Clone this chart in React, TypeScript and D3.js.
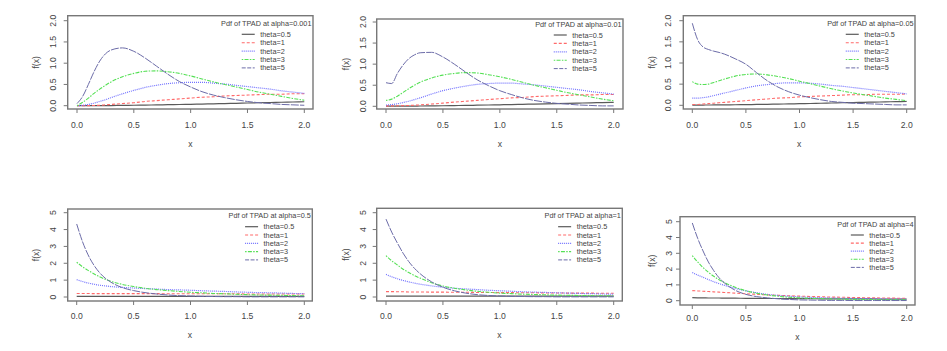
import { useEffect, useRef } from 'react';
import * as d3 from 'd3';

const xGrid = [0, 0.05, 0.1, 0.15, 0.2, 0.25, 0.3, 0.4, 0.5, 0.6, 0.7, 0.8, 0.9, 1.0, 1.1, 1.2, 1.3, 1.4, 1.5, 1.6, 1.7, 1.8, 1.9, 2.0];

const thetaLabels = ['theta=0.5', 'theta=1', 'theta=2', 'theta=3', 'theta=5'];

const xTicks = [0, 0.5, 1, 1.5, 2];
const yTicksSmall = [0, 0.5, 1, 1.5, 2];
const yTicksLarge = [0, 1, 2, 3, 4, 5];

// rows: theta=0.5, 1, 2, 3, 5
const pdfAlpha0001 = [
    [0, 0, 0.001, 0.001, 0.002, 0.003, 0.004, 0.007, 0.01, 0.014, 0.018, 0.023, 0.028, 0.033, 0.039, 0.045, 0.051, 0.057, 0.063, 0.069, 0.075, 0.081, 0.087, 0.093],
    [0, 0, 0.002, 0.005, 0.01, 0.02, 0.03, 0.05, 0.07, 0.1, 0.12, 0.14, 0.16, 0.18, 0.2, 0.21, 0.23, 0.24, 0.25, 0.26, 0.27, 0.27, 0.28, 0.28],
    [0, 0.01, 0.03, 0.06, 0.1, 0.14, 0.19, 0.28, 0.36, 0.43, 0.48, 0.52, 0.54, 0.55, 0.55, 0.53, 0.51, 0.48, 0.45, 0.42, 0.39, 0.35, 0.32, 0.29],
    [0, 0.08, 0.18, 0.29, 0.39, 0.48, 0.56, 0.68, 0.76, 0.81, 0.82, 0.8, 0.76, 0.7, 0.63, 0.56, 0.5, 0.44, 0.38, 0.32, 0.27, 0.22, 0.17, 0.13],
    [0.05, 0.22, 0.5, 0.8, 1.05, 1.22, 1.31, 1.36, 1.28, 1.12, 0.93, 0.74, 0.57, 0.44, 0.33, 0.25, 0.19, 0.14, 0.1, 0.07, 0.05, 0.03, 0.02, 0.01],
];

const pdfAlpha001 = [
    [0.003, 0.003, 0.004, 0.004, 0.005, 0.006, 0.007, 0.01, 0.013, 0.017, 0.021, 0.026, 0.031, 0.036, 0.041, 0.047, 0.053, 0.059, 0.065, 0.071, 0.077, 0.083, 0.088, 0.094],
    [0.01, 0.01, 0.012, 0.015, 0.02, 0.026, 0.034, 0.053, 0.075, 0.1, 0.12, 0.14, 0.16, 0.18, 0.2, 0.21, 0.23, 0.24, 0.25, 0.26, 0.27, 0.27, 0.28, 0.28],
    [0.03, 0.04, 0.06, 0.09, 0.12, 0.16, 0.2, 0.29, 0.37, 0.43, 0.48, 0.52, 0.54, 0.55, 0.55, 0.53, 0.51, 0.48, 0.45, 0.42, 0.39, 0.35, 0.32, 0.29],
    [0.14, 0.17, 0.24, 0.33, 0.42, 0.5, 0.57, 0.67, 0.74, 0.78, 0.8, 0.79, 0.75, 0.7, 0.64, 0.57, 0.5, 0.44, 0.38, 0.32, 0.27, 0.22, 0.17, 0.13],
    [0.56, 0.54, 0.78, 0.98, 1.13, 1.22, 1.27, 1.28, 1.17, 1.0, 0.81, 0.63, 0.49, 0.37, 0.28, 0.2, 0.14, 0.1, 0.07, 0.05, 0.03, 0.02, 0.01, 0.01],
];

const pdfAlpha005 = [
    [0.005, 0.005, 0.006, 0.007, 0.008, 0.009, 0.01, 0.013, 0.016, 0.02, 0.024, 0.028, 0.033, 0.038, 0.043, 0.048, 0.054, 0.06, 0.065, 0.07, 0.076, 0.081, 0.086, 0.09],
    [0.02, 0.02, 0.03, 0.04, 0.05, 0.06, 0.07, 0.09, 0.11, 0.13, 0.15, 0.17, 0.18, 0.2, 0.21, 0.22, 0.23, 0.24, 0.25, 0.25, 0.26, 0.26, 0.26, 0.27],
    [0.17, 0.17, 0.18, 0.2, 0.23, 0.26, 0.29, 0.35, 0.41, 0.46, 0.49, 0.52, 0.53, 0.53, 0.52, 0.5, 0.47, 0.45, 0.42, 0.39, 0.36, 0.33, 0.3, 0.27],
    [0.56, 0.5, 0.49, 0.5, 0.54, 0.58, 0.62, 0.69, 0.73, 0.74, 0.72, 0.68, 0.63, 0.57, 0.51, 0.45, 0.39, 0.34, 0.29, 0.25, 0.21, 0.17, 0.14, 0.11],
    [1.94, 1.55, 1.38, 1.32, 1.28, 1.25, 1.21, 1.1, 0.97, 0.77, 0.58, 0.43, 0.32, 0.24, 0.18, 0.13, 0.09, 0.07, 0.05, 0.04, 0.03, 0.02, 0.01, 0.01],
];

const pdfAlpha05 = [
    [0.04, 0.04, 0.04, 0.04, 0.04, 0.04, 0.04, 0.04, 0.04, 0.04, 0.04, 0.04, 0.04, 0.04, 0.04, 0.04, 0.04, 0.04, 0.04, 0.04, 0.04, 0.04, 0.04, 0.04],
    [0.21, 0.21, 0.21, 0.2, 0.2, 0.2, 0.2, 0.2, 0.2, 0.2, 0.2, 0.19, 0.19, 0.19, 0.19, 0.19, 0.19, 0.19, 0.18, 0.18, 0.18, 0.18, 0.18, 0.18],
    [1.03, 0.92, 0.83, 0.76, 0.7, 0.66, 0.62, 0.57, 0.53, 0.5, 0.47, 0.44, 0.42, 0.4, 0.37, 0.35, 0.33, 0.3, 0.28, 0.26, 0.25, 0.23, 0.21, 0.2],
    [2.06, 1.8, 1.58, 1.38, 1.2, 1.05, 0.93, 0.75, 0.62, 0.52, 0.44, 0.38, 0.33, 0.28, 0.25, 0.21, 0.19, 0.16, 0.14, 0.12, 0.11, 0.1, 0.08, 0.07],
    [4.33, 3.3, 2.5, 1.9, 1.45, 1.12, 0.88, 0.56, 0.38, 0.26, 0.18, 0.12, 0.08, 0.06, 0.04, 0.03, 0.02, 0.02, 0.01, 0.01, 0.01, 0.01, 0.01, 0.01],
];

const pdfAlpha1 = [
    [0.05, 0.05, 0.05, 0.05, 0.05, 0.05, 0.05, 0.05, 0.05, 0.05, 0.05, 0.05, 0.05, 0.05, 0.05, 0.05, 0.05, 0.05, 0.05, 0.05, 0.05, 0.05, 0.05, 0.05],
    [0.32, 0.32, 0.31, 0.31, 0.3, 0.3, 0.3, 0.29, 0.29, 0.28, 0.28, 0.27, 0.27, 0.26, 0.26, 0.25, 0.25, 0.24, 0.24, 0.23, 0.23, 0.23, 0.22, 0.22],
    [1.34, 1.2, 1.08, 0.98, 0.9, 0.82, 0.76, 0.66, 0.58, 0.52, 0.48, 0.44, 0.4, 0.37, 0.34, 0.31, 0.29, 0.27, 0.25, 0.23, 0.21, 0.2, 0.18, 0.17],
    [2.45, 2.15, 1.9, 1.65, 1.45, 1.27, 1.12, 0.85, 0.65, 0.52, 0.42, 0.34, 0.28, 0.23, 0.2, 0.17, 0.15, 0.13, 0.11, 0.1, 0.09, 0.08, 0.07, 0.06],
    [4.62, 3.85, 3.2, 2.6, 2.1, 1.7, 1.38, 0.9, 0.58, 0.37, 0.23, 0.14, 0.09, 0.06, 0.04, 0.03, 0.02, 0.02, 0.01, 0.01, 0.01, 0.01, 0.01, 0.01],
];

const pdfAlpha4 = [
    [0.19, 0.18, 0.18, 0.17, 0.17, 0.17, 0.16, 0.16, 0.15, 0.15, 0.14, 0.14, 0.13, 0.13, 0.13, 0.12, 0.12, 0.12, 0.11, 0.11, 0.11, 0.1, 0.1, 0.1],
    [0.64, 0.62, 0.6, 0.58, 0.56, 0.54, 0.52, 0.48, 0.44, 0.4, 0.37, 0.34, 0.31, 0.29, 0.27, 0.25, 0.23, 0.22, 0.2, 0.19, 0.18, 0.17, 0.16, 0.15],
    [1.78, 1.62, 1.48, 1.34, 1.2, 1.08, 0.97, 0.78, 0.62, 0.5, 0.4, 0.33, 0.28, 0.24, 0.21, 0.19, 0.17, 0.15, 0.14, 0.13, 0.12, 0.11, 0.1, 0.1],
    [2.85, 2.45, 2.1, 1.8, 1.55, 1.33, 1.15, 0.85, 0.63, 0.47, 0.36, 0.28, 0.22, 0.18, 0.15, 0.13, 0.11, 0.1, 0.09, 0.08, 0.07, 0.06, 0.06, 0.05],
    [4.92, 3.95, 3.15, 2.45, 1.9, 1.45, 1.12, 0.66, 0.4, 0.26, 0.18, 0.12, 0.08, 0.05, 0.04, 0.03, 0.02, 0.02, 0.01, 0.01, 0.01, 0.01, 0.01, 0.01],
];

const seriesStyle = [
    { color: '#5a5a5a', dash: null, width: 1.2 },
    { color: '#ff6a6a', dash: '3,2', width: 1.1 },
    { color: '#7272ff', dash: '1,1', width: 1.2 },
    { color: '#55e055', dash: '1.5,1.3,4,1.3', width: 1.1 },
    { color: '#6c6ca8', dash: '8,1.2', width: 1 },
];

const panels = [
    { alpha: '0.001', data: pdfAlpha0001, box: [67.7, 15.7, 313, 109], xr: [77, 304.3], yr: [105.7, 20.7], yMax: 2, yTicks: yTicksSmall, yTickX: 53.3, fxX: 36, xTickY: 125, xTitleY: 144, legendY: 23.3, rowGap: 8.4 },
    { alpha: '0.01', data: pdfAlpha001, box: [376.7, 19, 623, 109], xr: [386, 613.7], yr: [106.3, 22], yMax: 2, yTicks: yTicksSmall, yTickX: 363.3, fxX: 346, xTickY: 125.3, xTitleY: 144.3, legendY: 24, rowGap: 8.4 },
    { alpha: '0.05', data: pdfAlpha005, box: [683.3, 15.7, 915, 109], xr: [692.3, 906.7], yr: [105.3, 20.7], yMax: 2, yTicks: yTicksSmall, yTickX: 667.7, fxX: 651.7, xTickY: 125, xTitleY: 144.3, legendY: 23.3, rowGap: 8.4 },
    { alpha: '0.5', data: pdfAlpha05, box: [67.7, 209, 312.3, 301], xr: [76.7, 304.3], yr: [297, 212.7], yMax: 5, yTicks: yTicksLarge, yTickX: 53.3, fxX: 36, xTickY: 315.7, xTitleY: 335, legendY: 215.7, rowGap: 8.3 },
    { alpha: '1', data: pdfAlpha1, box: [376.7, 208.3, 622.3, 301], xr: [386, 613.7], yr: [297, 212.7], yMax: 5, yTicks: yTicksLarge, yTickX: 363.3, fxX: 346, xTickY: 315.7, xTitleY: 335, legendY: 215.7, rowGap: 8.3 },
    { alpha: '4', data: pdfAlpha4, box: [680, 216.7, 915, 305], xr: [692.3, 906.7], yr: [300.7, 221.7], yMax: 5, yTicks: yTicksLarge, yTickX: 669.3, fxX: 651.7, xTickY: 317.7, xTitleY: 336.7, legendY: 224, rowGap: 8.1 },
];

const FONT = '"Liberation Sans", Arial, sans-serif';
const TEXT = '#444';

const App = () => {
    const svgRef = useRef<SVGSVGElement>(null);

    useEffect(() => {
        const svg = d3.select(svgRef.current);
        svg.selectAll('*').remove();

        panels.forEach((p) => {
            const [left, top, right, bottom] = p.box;
            const g = svg.append('g');

            const x = d3.scaleLinear().domain([0, 2]).range(p.xr);
            const y = d3.scaleLinear().domain([0, p.yMax]).range(p.yr);

            // curves
            const line = d3.line<number>()
                .x((_, i) => x(xGrid[i]))
                .y((d) => y(d))
                .curve(d3.curveMonotoneX);

            p.data.forEach((vals, k) => {
                g.append('path')
                    .attr('d', line(vals))
                    .attr('fill', 'none')
                    .attr('stroke', seriesStyle[k].color)
                    .attr('stroke-width', seriesStyle[k].width)
                    .attr('stroke-dasharray', seriesStyle[k].dash);
            });

            // frame
            g.append('rect')
                .attr('x', left).attr('y', top)
                .attr('width', right - left).attr('height', bottom - top)
                .attr('fill', 'none').attr('stroke', '#777').attr('stroke-width', 1.4);

            // x axis
            xTicks.forEach((t) => {
                g.append('line')
                    .attr('x1', x(t)).attr('x2', x(t))
                    .attr('y1', bottom).attr('y2', bottom + 4)
                    .attr('stroke', '#777');
                g.append('text')
                    .attr('x', x(t)).attr('y', p.xTickY)
                    .attr('text-anchor', 'middle').attr('dominant-baseline', 'central')
                    .attr('font-size', 8.6).attr('font-family', FONT).attr('fill', TEXT)
                    .text(d3.format('.1f')(t));
            });

            // y axis
            const yFmt = p.yMax > 2 ? d3.format('d') : d3.format('.1f');
            p.yTicks.forEach((t) => {
                g.append('line')
                    .attr('x1', left).attr('x2', left - 4)
                    .attr('y1', y(t)).attr('y2', y(t))
                    .attr('stroke', '#777');
                g.append('text')
                    .attr('transform', `translate(${p.yTickX},${y(t)}) rotate(-90)`)
                    .attr('text-anchor', 'middle').attr('dominant-baseline', 'central')
                    .attr('font-size', 8.6).attr('font-family', FONT).attr('fill', TEXT)
                    .text(yFmt(t));
            });

            // axis titles
            g.append('text')
                .attr('x', (left + right) / 2).attr('y', p.xTitleY)
                .attr('text-anchor', 'middle').attr('dominant-baseline', 'central')
                .attr('font-size', 8.6).attr('font-family', FONT).attr('fill', TEXT)
                .text('x');
            g.append('text')
                .attr('transform', `translate(${p.fxX},${(top + bottom) / 2}) rotate(-90)`)
                .attr('text-anchor', 'middle').attr('dominant-baseline', 'central')
                .attr('font-size', 8.6).attr('font-family', FONT).attr('fill', TEXT)
                .text('f(x)');

            // legend
            const title = g.append('text')
                .attr('x', right - 1.5).attr('y', p.legendY)
                .attr('text-anchor', 'end').attr('dominant-baseline', 'central')
                .attr('font-size', 7.3).attr('font-family', FONT).attr('fill', TEXT)
                .text(`Pdf of TPAD at alpha=${p.alpha}`);

            const titleW = (title.node() as SVGTextElement).getComputedTextLength();
            const titleCenter = right - 1.5 - titleW / 2;

            const probe = g.append('text')
                .attr('font-size', 7.3).attr('font-family', FONT)
                .text(thetaLabels[0]);
            const entryW = (probe.node() as SVGTextElement).getComputedTextLength();
            probe.remove();

            const blockW = 13 + 5.5 + entryW;
            const lx = titleCenter - blockW / 2;

            thetaLabels.forEach((lab, k) => {
                const ry = p.legendY + 11 + k * p.rowGap;
                g.append('line')
                    .attr('x1', lx).attr('x2', lx + 13)
                    .attr('y1', ry).attr('y2', ry)
                    .attr('stroke', seriesStyle[k].color)
                    .attr('stroke-width', seriesStyle[k].width)
                    .attr('stroke-dasharray', k === 4 ? '4,1.5' : seriesStyle[k].dash);
                g.append('text')
                    .attr('x', lx + 18.5).attr('y', ry)
                    .attr('dominant-baseline', 'central')
                    .attr('font-size', 7.3).attr('font-family', FONT).attr('fill', TEXT)
                    .text(lab);
            });
        });
    }, []);

    return (
        <div style={{ position: 'absolute', left: 0, top: 0, width: 947, height: 351, background: '#fff' }}>
            <svg ref={svgRef} width={947} height={351}></svg>
        </div>
    );
};

export default App;
